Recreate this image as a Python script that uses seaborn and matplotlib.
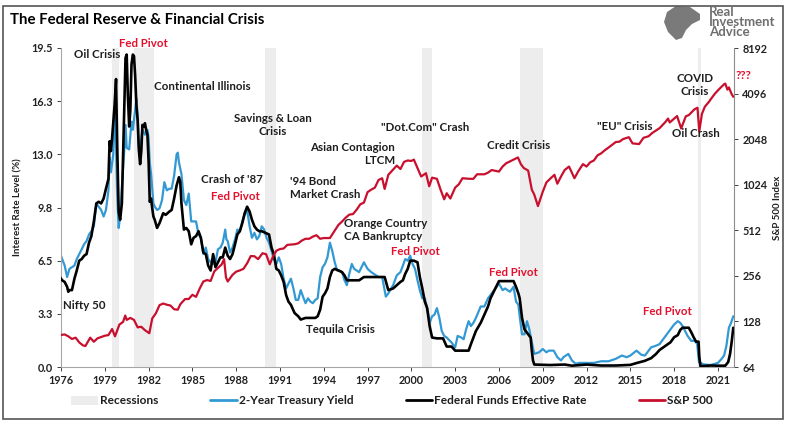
import numpy as np
import pandas as pd
import matplotlib
matplotlib.use("Agg")
import matplotlib.pyplot as plt
from matplotlib.patches import Patch, Rectangle, Polygon
from matplotlib.lines import Line2D
import seaborn as sns

# ---- data ----
# Federal Funds Effective Rate (%)
ff_years = [1976.42, 1976.58, 1976.75, 1976.92, 1977.0, 1977.08, 1977.25, 1977.42, 1977.58, 1977.75,
            1977.92, 1978.08, 1978.25, 1978.42, 1978.58, 1978.75, 1978.92, 1979.08, 1979.25, 1979.42,
            1979.58, 1979.75, 1979.83, 1979.92, 1980.0, 1980.17, 1980.27, 1980.35, 1980.45, 1980.55,
            1980.67, 1980.75, 1980.83, 1980.92, 1981.0, 1981.08, 1981.17, 1981.25, 1981.33, 1981.42,
            1981.5, 1981.58, 1981.67, 1981.75, 1981.83, 1981.92, 1982.0, 1982.08, 1982.17, 1982.25,
            1982.33, 1982.42, 1982.5, 1982.58, 1982.67, 1982.75, 1982.83, 1982.92, 1983.08, 1983.25,
            1983.5, 1983.67, 1983.92, 1984.08, 1984.25, 1984.42, 1984.58, 1984.67, 1984.75, 1984.92,
            1985.08, 1985.25, 1985.42, 1985.58, 1985.75, 1985.92, 1986.08, 1986.25, 1986.42, 1986.58,
            1986.75, 1986.92, 1987.08, 1987.25, 1987.42, 1987.58, 1987.75, 1987.92, 1988.08, 1988.25,
            1988.42, 1988.58, 1988.75, 1988.92, 1989.08, 1989.25, 1989.42, 1989.58, 1989.75, 1989.92,
            1990.08, 1990.25, 1990.5, 1990.75, 1990.92, 1991.08, 1991.25, 1991.42, 1991.58, 1991.75,
            1991.92, 1992.08, 1992.25, 1992.5, 1992.75, 1992.92, 1993.25, 1993.5, 1993.75, 1993.92,
            1994.08, 1994.25, 1994.42, 1994.58, 1994.75, 1994.92, 1995.08, 1995.25, 1995.5, 1995.75,
            1995.92, 1996.08, 1996.5, 1996.92, 1997.25, 1997.75, 1998.25, 1998.67, 1998.83, 1998.92,
            1999.25, 1999.5, 1999.75, 1999.92, 2000.08, 2000.25, 2000.42, 2000.67, 2000.92, 2001.08,
            2001.25, 2001.42, 2001.58, 2001.75, 2001.92, 2002.25, 2002.67, 2002.92, 2003.25, 2003.5,
            2004.42, 2004.58, 2004.75, 2004.92, 2005.25, 2005.5, 2005.75, 2005.92, 2006.25, 2006.5,
            2007.5, 2007.67, 2007.83, 2007.92, 2008.08, 2008.25, 2008.5, 2008.67, 2008.75, 2008.83,
            2008.92, 2010.0, 2011.0, 2011.5, 2012.5, 2013.5, 2014.5, 2015.5, 2015.92, 2016.5,
            2016.92, 2017.25, 2017.5, 2017.92, 2018.25, 2018.5, 2018.75, 2018.92, 2019.08, 2019.5,
            2019.67, 2019.83, 2020.0, 2020.17, 2020.22, 2020.3, 2021.0, 2021.5, 2022.0, 2022.2,
            2022.33, 2022.45, 2022.55]
ff_rate = [5.5, 5.3, 5.2, 4.9, 4.6, 4.7, 4.7, 5.4, 5.9, 6.5,
           6.6, 6.8, 6.9, 7.6, 8.0, 8.9, 10.0, 10.1, 10.0, 10.3,
           10.9, 11.5, 13.8, 13.2, 14.0, 16.0, 17.6, 13.5, 9.5, 9.0,
           10.0, 12.8, 15.8, 18.9, 19.1, 16.6, 14.7, 15.7, 18.5, 19.1,
           19.0, 17.8, 15.9, 15.1, 13.3, 12.4, 13.2, 14.8, 14.7, 14.9,
           14.5, 14.2, 12.6, 10.1, 10.3, 9.7, 9.2, 9.0, 8.5, 8.8,
           9.4, 9.3, 9.5, 9.6, 10.3, 11.1, 11.6, 11.3, 10.0, 8.4,
           8.5, 8.3, 7.5, 7.9, 8.0, 8.3, 7.9, 7.0, 6.9, 6.2,
           5.9, 6.9, 6.1, 6.4, 6.7, 6.7, 7.3, 6.8, 6.6, 6.9,
           7.5, 8.1, 8.3, 8.8, 9.4, 9.8, 9.5, 9.0, 8.6, 8.4,
           8.3, 8.3, 8.2, 8.1, 7.3, 6.9, 6.0, 5.9, 5.6, 5.2,
           4.4, 4.0, 3.8, 3.3, 3.1, 2.9, 3.0, 3.0, 3.0, 3.0,
           3.1, 3.5, 4.3, 4.5, 4.8, 5.5, 5.9, 6.0, 5.9, 5.8,
           5.6, 5.3, 5.3, 5.3, 5.5, 5.5, 5.5, 5.5, 5.0, 4.7,
           4.8, 5.0, 5.2, 5.3, 5.7, 6.0, 6.5, 6.5, 6.4, 5.5,
           4.8, 4.0, 3.6, 2.5, 1.8, 1.75, 1.75, 1.25, 1.25, 1.0,
           1.0, 1.4, 1.8, 2.2, 2.7, 3.2, 3.7, 4.2, 4.8, 5.25,
           5.25, 4.9, 4.5, 4.2, 3.0, 2.3, 2.0, 1.8, 1.0, 0.4,
           0.15, 0.12, 0.15, 0.08, 0.15, 0.09, 0.09, 0.13, 0.24, 0.38,
           0.54, 0.79, 1.04, 1.3, 1.51, 1.82, 1.95, 2.27, 2.4, 2.4,
           2.13, 1.83, 1.55, 1.55, 0.65, 0.05, 0.09, 0.08, 0.08, 0.3,
           0.8, 1.6, 2.4]

# 2-Year Treasury Yield (%)
t2_years = [1976.42, 1976.58, 1976.75, 1976.92, 1977.08, 1977.25, 1977.42, 1977.58, 1977.75, 1977.92,
            1978.08, 1978.25, 1978.42, 1978.58, 1978.75, 1978.92, 1979.08, 1979.25, 1979.42, 1979.58,
            1979.75, 1979.83, 1979.92, 1980.08, 1980.17, 1980.25, 1980.35, 1980.45, 1980.55, 1980.67,
            1980.83, 1980.92, 1981.0, 1981.17, 1981.33, 1981.42, 1981.58, 1981.67, 1981.75, 1981.83,
            1981.92, 1982.08, 1982.25, 1982.42, 1982.5, 1982.58, 1982.67, 1982.83, 1982.92, 1983.08,
            1983.25, 1983.42, 1983.58, 1983.75, 1983.92, 1984.08, 1984.25, 1984.42, 1984.5, 1984.58,
            1984.75, 1984.92, 1985.08, 1985.25, 1985.42, 1985.58, 1985.75, 1985.92, 1986.08, 1986.25,
            1986.42, 1986.58, 1986.75, 1986.92, 1987.08, 1987.25, 1987.42, 1987.58, 1987.75, 1987.83,
            1987.92, 1988.08, 1988.25, 1988.42, 1988.58, 1988.75, 1988.92, 1989.08, 1989.25, 1989.42,
            1989.58, 1989.75, 1989.92, 1990.08, 1990.25, 1990.42, 1990.58, 1990.75, 1990.92, 1991.08,
            1991.25, 1991.42, 1991.58, 1991.75, 1991.92, 1992.08, 1992.25, 1992.42, 1992.58, 1992.75,
            1992.92, 1993.08, 1993.25, 1993.42, 1993.58, 1993.75, 1993.92, 1994.08, 1994.25, 1994.42,
            1994.58, 1994.75, 1994.92, 1995.08, 1995.25, 1995.42, 1995.58, 1995.75, 1995.92, 1996.08,
            1996.25, 1996.42, 1996.58, 1996.75, 1996.92, 1997.25, 1997.5, 1997.75, 1997.92, 1998.25,
            1998.5, 1998.75, 1998.92, 1999.25, 1999.5, 1999.75, 1999.92, 2000.08, 2000.25, 2000.42,
            2000.58, 2000.75, 2000.92, 2001.08, 2001.25, 2001.42, 2001.58, 2001.75, 2001.92, 2002.08,
            2002.25, 2002.42, 2002.58, 2002.75, 2002.92, 2003.25, 2003.5, 2003.67, 2003.92, 2004.08,
            2004.25, 2004.42, 2004.58, 2004.75, 2004.92, 2005.25, 2005.5, 2005.75, 2005.92, 2006.25,
            2006.5, 2006.75, 2006.92, 2007.25, 2007.5, 2007.67, 2007.83, 2007.92, 2008.08, 2008.25,
            2008.42, 2008.58, 2008.75, 2008.92, 2009.25, 2009.5, 2009.75, 2009.92, 2010.25, 2010.5,
            2010.75, 2010.92, 2011.25, 2011.5, 2011.75, 2012.0, 2012.5, 2013.0, 2013.5, 2014.0,
            2014.5, 2014.92, 2015.25, 2015.5, 2015.92, 2016.25, 2016.5, 2016.92, 2017.25, 2017.5,
            2017.92, 2018.25, 2018.5, 2018.75, 2018.92, 2019.08, 2019.42, 2019.67, 2019.92, 2020.08,
            2020.2, 2020.5, 2021.0, 2021.5, 2021.75, 2021.92, 2022.08, 2022.25, 2022.4, 2022.55]
t2_yield = [7.0, 6.6, 6.2, 5.5, 6.0, 6.1, 6.2, 6.6, 6.9, 7.2,
            7.5, 7.7, 8.1, 8.3, 8.6, 10.0, 9.8, 9.6, 9.2, 9.6,
            10.8, 12.8, 11.9, 13.0, 15.6, 14.4, 10.5, 8.5, 9.2, 11.0,
            13.2, 14.8, 13.4, 13.3, 15.0, 14.5, 15.7, 16.4, 15.3, 13.5,
            13.4, 14.5, 14.2, 14.5, 14.0, 12.5, 11.8, 10.0, 9.8, 9.6,
            9.7, 10.2, 11.3, 10.8, 10.9, 10.9, 11.7, 13.0, 13.1, 12.5,
            11.8, 10.2, 9.9, 10.6, 8.9, 8.9, 8.9, 8.1, 7.9, 6.9,
            7.3, 6.6, 6.4, 6.3, 6.4, 7.2, 7.3, 7.6, 8.4, 7.8,
            7.7, 7.0, 7.3, 7.8, 8.4, 8.3, 8.9, 9.3, 9.6, 8.6,
            7.9, 8.2, 7.8, 8.0, 8.6, 8.4, 7.9, 7.6, 7.1, 6.6,
            6.3, 6.7, 6.3, 5.4, 4.8, 5.1, 5.4, 4.8, 4.1, 4.1,
            4.7, 4.3, 3.9, 4.2, 4.0, 3.9, 4.1, 4.2, 5.5, 6.1,
            6.3, 6.7, 7.6, 7.1, 6.4, 5.9, 5.9, 5.8, 5.3, 5.0,
            5.7, 6.3, 6.0, 5.9, 5.8, 6.4, 6.0, 5.8, 5.7, 5.5,
            5.5, 4.3, 4.5, 5.0, 5.6, 5.8, 6.2, 6.6, 6.5, 6.8,
            6.3, 6.0, 5.3, 4.7, 4.2, 4.2, 3.6, 2.7, 3.1, 3.2,
            3.6, 3.0, 2.2, 1.9, 1.8, 1.5, 1.2, 1.9, 1.8, 1.7,
            2.3, 2.8, 2.5, 2.7, 3.0, 3.7, 3.7, 4.2, 4.4, 4.8,
            5.1, 4.7, 4.8, 4.6, 4.9, 4.0, 3.8, 3.1, 2.0, 2.0,
            2.8, 2.3, 1.5, 0.8, 0.9, 1.1, 0.9, 1.0, 1.0, 0.6,
            0.4, 0.6, 0.8, 0.4, 0.2, 0.25, 0.25, 0.25, 0.35, 0.35,
            0.5, 0.7, 0.6, 0.7, 1.0, 0.75, 0.7, 1.2, 1.3, 1.4,
            1.9, 2.3, 2.6, 2.8, 2.7, 2.5, 1.9, 1.6, 1.6, 1.4,
            0.3, 0.16, 0.12, 0.25, 0.5, 0.7, 1.3, 2.4, 2.7, 3.1]

# S&P 500 index level
sp_years = [1976.42, 1976.75, 1977.0, 1977.25, 1977.5, 1977.75, 1978.0, 1978.17, 1978.5, 1978.75,
            1979.0, 1979.25, 1979.5, 1979.75, 1980.0, 1980.2, 1980.5, 1980.75, 1980.9, 1981.0,
            1981.25, 1981.5, 1981.75, 1982.0, 1982.25, 1982.55, 1982.75, 1983.0, 1983.25, 1983.5,
            1983.75, 1984.0, 1984.25, 1984.5, 1984.67, 1985.0, 1985.25, 1985.5, 1985.75, 1986.0,
            1986.25, 1986.5, 1986.75, 1987.0, 1987.25, 1987.5, 1987.67, 1987.8, 1987.92, 1988.25,
            1988.5, 1988.75, 1989.0, 1989.25, 1989.5, 1989.75, 1990.0, 1990.3, 1990.55, 1990.8,
            1991.0, 1991.25, 1991.5, 1991.75, 1992.0, 1992.25, 1992.5, 1992.75, 1993.0, 1993.25,
            1993.5, 1993.75, 1994.0, 1994.25, 1994.5, 1994.92, 1995.25, 1995.5, 1995.75, 1996.0,
            1996.25, 1996.5, 1996.75, 1997.0, 1997.25, 1997.5, 1997.75, 1998.0, 1998.25, 1998.5,
            1998.67, 1998.92, 1999.25, 1999.5, 1999.75, 2000.0, 2000.25, 2000.5, 2000.67, 2000.92,
            2001.17, 2001.5, 2001.72, 2001.92, 2002.25, 2002.5, 2002.75, 2002.92, 2003.17, 2003.5,
            2003.75, 2004.0, 2004.5, 2004.75, 2005.0, 2005.5, 2005.75, 2006.0, 2006.5, 2006.75,
            2007.0, 2007.5, 2007.8, 2008.0, 2008.2, 2008.5, 2008.75, 2008.92, 2009.17, 2009.5,
            2009.75, 2010.0, 2010.3, 2010.5, 2010.75, 2011.0, 2011.3, 2011.67, 2011.92, 2012.25,
            2012.5, 2012.75, 2013.0, 2013.25, 2013.5, 2013.75, 2014.0, 2014.25, 2014.5, 2014.75,
            2015.0, 2015.4, 2015.65, 2016.1, 2016.4, 2016.75, 2017.0, 2017.5, 2017.92, 2018.08,
            2018.2, 2018.7, 2018.98, 2019.3, 2019.5, 2019.9, 2020.1, 2020.22, 2020.4, 2020.6,
            2020.9, 2021.0, 2021.3, 2021.6, 2021.9, 2022.0, 2022.15, 2022.25, 2022.42, 2022.55]
sp_index = [104, 105, 102, 98, 100, 93, 89, 88, 100, 94,
            99, 101, 103, 104, 114, 102, 122, 127, 140, 131,
            135, 131, 117, 118, 112, 107, 134, 145, 164, 168,
            165, 163, 154, 153, 166, 180, 180, 192, 186, 211,
            235, 240, 237, 274, 289, 304, 330, 250, 235, 260,
            273, 278, 285, 310, 346, 345, 330, 361, 356, 305,
            340, 375, 385, 388, 410, 412, 414, 420, 438, 450,
            450, 465, 475, 450, 455, 455, 510, 555, 585, 620,
            650, 655, 700, 760, 780, 915, 950, 980, 1100, 1130,
            960, 1190, 1290, 1370, 1300, 1450, 1480, 1470, 1500, 1320,
            1160, 1220, 1000, 1140, 1120, 950, 820, 900, 830, 980,
            1030, 1130, 1120, 1120, 1200, 1200, 1230, 1280, 1250, 1350,
            1420, 1500, 1550, 1400, 1320, 1270, 950, 880, 740, 920,
            1060, 1120, 1190, 1040, 1160, 1280, 1350, 1130, 1250, 1400,
            1350, 1440, 1480, 1600, 1650, 1730, 1800, 1880, 1960, 1970,
            2050, 2110, 1920, 1900, 2090, 2140, 2250, 2420, 2670, 2800,
            2640, 2910, 2410, 2900, 2950, 3230, 3300, 2300, 3000, 3350,
            3630, 3750, 4100, 4400, 4700, 4770, 4350, 4500, 4100, 3900]

# NBER recessions (start, end)
rec_start = [1980.0, 1981.5, 1990.5, 2001.2, 2007.92, 2020.1]
rec_end = [1980.5, 1982.9, 1991.2, 2001.9, 2009.5, 2020.33]

rate_ticks = [0.0, 3.25, 6.5, 9.75, 13.0, 16.25, 19.5]
rate_labels = ["0.0", "3.3", "6.5", "9.8", "13.0", "16.3", "19.5"]
sp_ticks = [64, 128, 256, 512, 1024, 2048, 4096, 8192]
year_labels = [str(y) for y in range(1976, 2022, 3)]

BLUE = "#3399d4"
RED = "#c8102e"
PIVOT = "#e5102d"
TXT = "#1e1e1e"

sns.set_style("white")
plt.rcParams["font.family"] = ["Liberation Sans Narrow", "Lato", "DejaVu Sans"]
plt.rcParams["font.weight"] = "bold"

fig = plt.figure(figsize=(7.88, 4.25), dpi=100)
ax = fig.add_axes([61 / 788, 1 - 367 / 425, 673 / 788, 319 / 425])

for s, e in zip(rec_start, rec_end):
    ax.axvspan(s, e, color="#ededed", lw=0, zorder=0)

t2 = pd.DataFrame({"year": t2_years, "rate": t2_yield})
ff = pd.DataFrame({"year": ff_years, "rate": ff_rate})
sp = pd.DataFrame({"year": sp_years, "level": sp_index})

sns.lineplot(data=t2, x="year", y="rate", ax=ax, color=BLUE, lw=1.6, zorder=2)
sns.lineplot(data=ff, x="year", y="rate", ax=ax, color="black", lw=1.9, zorder=3)

ax.set_xlim(1976.5, 2022.6)
ax.set_ylim(0, 19.5)
ax.set_xticks([1976.5 + 3 * k for k in range(len(year_labels))])
ax.set_xticklabels(year_labels)
ax.set_yticks(rate_ticks)
ax.set_yticklabels(rate_labels)
ax.set_xlabel("")
ax.set_ylabel("Interest Rate Level (%)", fontsize=7, fontweight="bold", color=TXT, labelpad=6)
ax.tick_params(axis="both", labelsize=7.8, colors="#222222", length=3, width=0.6, pad=3,
               left=True, bottom=True)
for side in ["left", "bottom"]:
    ax.spines[side].set_color("#a6a6a6")
    ax.spines[side].set_linewidth(0.8)
ax.spines["top"].set_visible(False)
ax.spines["right"].set_visible(False)

ax2 = ax.twinx()
sns.lineplot(data=sp, x="year", y="level", ax=ax2, color=RED, lw=1.6, zorder=4)
ax2.set_yscale("log", base=2)
ax2.set_ylim(64, 8192)
ax2.set_yticks(sp_ticks)
ax2.set_yticklabels([str(v) for v in sp_ticks])
ax2.minorticks_off()
ax2.set_ylabel("S&P 500 Index", fontsize=7, fontweight="bold", color=TXT, labelpad=4)
ax2.tick_params(axis="y", labelsize=7.8, colors="#222222", length=3, width=0.6, pad=3, right=True)
ax2.spines["right"].set_color("#8c8c8c")
ax2.spines["right"].set_linewidth(0.8)
for side in ["top", "left", "bottom"]:
    ax2.spines[side].set_visible(False)
ax2.set_xlabel("")

# annotations (year, rate-level on the left axis)
notes = [
    ("Oil Crisis", 1978.97, 19.13, "center", TXT),
    ("Fed Pivot", 1982.18, 19.8, "center", PIVOT),
    ("Continental Illinois", 1986.16, 17.12, "center", TXT),
    ("Savings & Loan\nCrisis", 1991.02, 14.79, "center", TXT),
    ("Asian Contagion\nLTCM", 1999.38, 13.02, "right", TXT),
    ('"Dot.Com" Crash', 2001.43, 14.61, "center", TXT),
    ("Credit Crisis", 2007.87, 13.57, "center", TXT),
    ('"EU" Crisis', 2015.13, 14.73, "center", TXT),
    ("Oil Crash", 2019.99, 14.30, "center", TXT),
    ("COVID\nCrisis", 2019.92, 17.24, "center", TXT),
    ("Crash of '87", 1988.21, 11.49, "center", TXT),
    ("Fed Pivot", 1988.42, 10.45, "center", PIVOT),
    ("'94 Bond\nMarket Crash", 1992.18, 10.94, "left", TXT),
    ("Orange Country\nCA Bankruptcy", 1995.88, 8.37, "left", TXT),
    ("Fed Pivot", 2000.75, 7.03, "center", PIVOT),
    ("Fed Pivot", 2007.46, 5.75, "center", PIVOT),
    ("Fed Pivot", 2018.01, 3.42, "center", PIVOT),
    ("Nifty 50", 1978.08, 3.73, "center", TXT),
    ("Tequila Crisis", 1995.61, 2.32, "center", TXT),
]
for label, x, y, ha, col in notes:
    ax2.text(x, 64 * 2 ** (y / 19.5 * 7), label, ha=ha, va="center", fontsize=8.3,
             fontweight="bold", color=col, multialignment=ha, linespacing=1.15,
             zorder=6, clip_on=False)
ax2.text(2022.73, 64 * 2 ** (17.79 / 19.5 * 7), "???", ha="left", va="center", fontsize=8.3,
         fontweight="bold", color=PIVOT, zorder=6, clip_on=False)

fig.text(10 / 788, 1 - 20 / 425, "The Federal Reserve & Financial Crisis", fontsize=10.8,
         fontweight="bold", color="black", ha="left", va="center")

# logo
fig.text(709 / 788, 1 - 22 / 425, "Real\nInvestment\nAdvice", fontsize=9.5, fontweight="bold",
         color="#6e6e6e", ha="left", va="center", linespacing=0.78)
eagle = [(700, 14), (690, 7), (676, 6), (667, 12), (664, 22), (668, 32), (676, 40),
         (682, 38), (686, 30), (692, 24), (700, 20)]
fig.patches.append(Polygon([(px / 788, 1 - py / 425) for px, py in eagle], closed=True,
                           facecolor="#7a7a7a", edgecolor="none", transform=fig.transFigure))

handles = [Patch(facecolor="#ededed", edgecolor="none"),
           Line2D([], [], color=BLUE, lw=2),
           Line2D([], [], color="black", lw=2),
           Line2D([], [], color=RED, lw=2)]
labels = ["Recessions", "2-Year Treasury Yield", "Federal Funds Effective Rate", "S&P 500"]
fig.legend(handles, labels, loc="center", bbox_to_anchor=(392 / 788, 1 - 401 / 425),
           ncol=4, frameon=False, fontsize=8.6, handlelength=2.2, handletextpad=0.15,
           columnspacing=4.4, borderpad=0, borderaxespad=0, labelcolor=TXT)

fig.patches.append(Rectangle((3 / 788, 1 - 419 / 425), 780 / 788, 413 / 425, fill=False,
                             edgecolor="#555555", lw=1.2, transform=fig.transFigure))

fig.savefig("out.png", dpi=100)
